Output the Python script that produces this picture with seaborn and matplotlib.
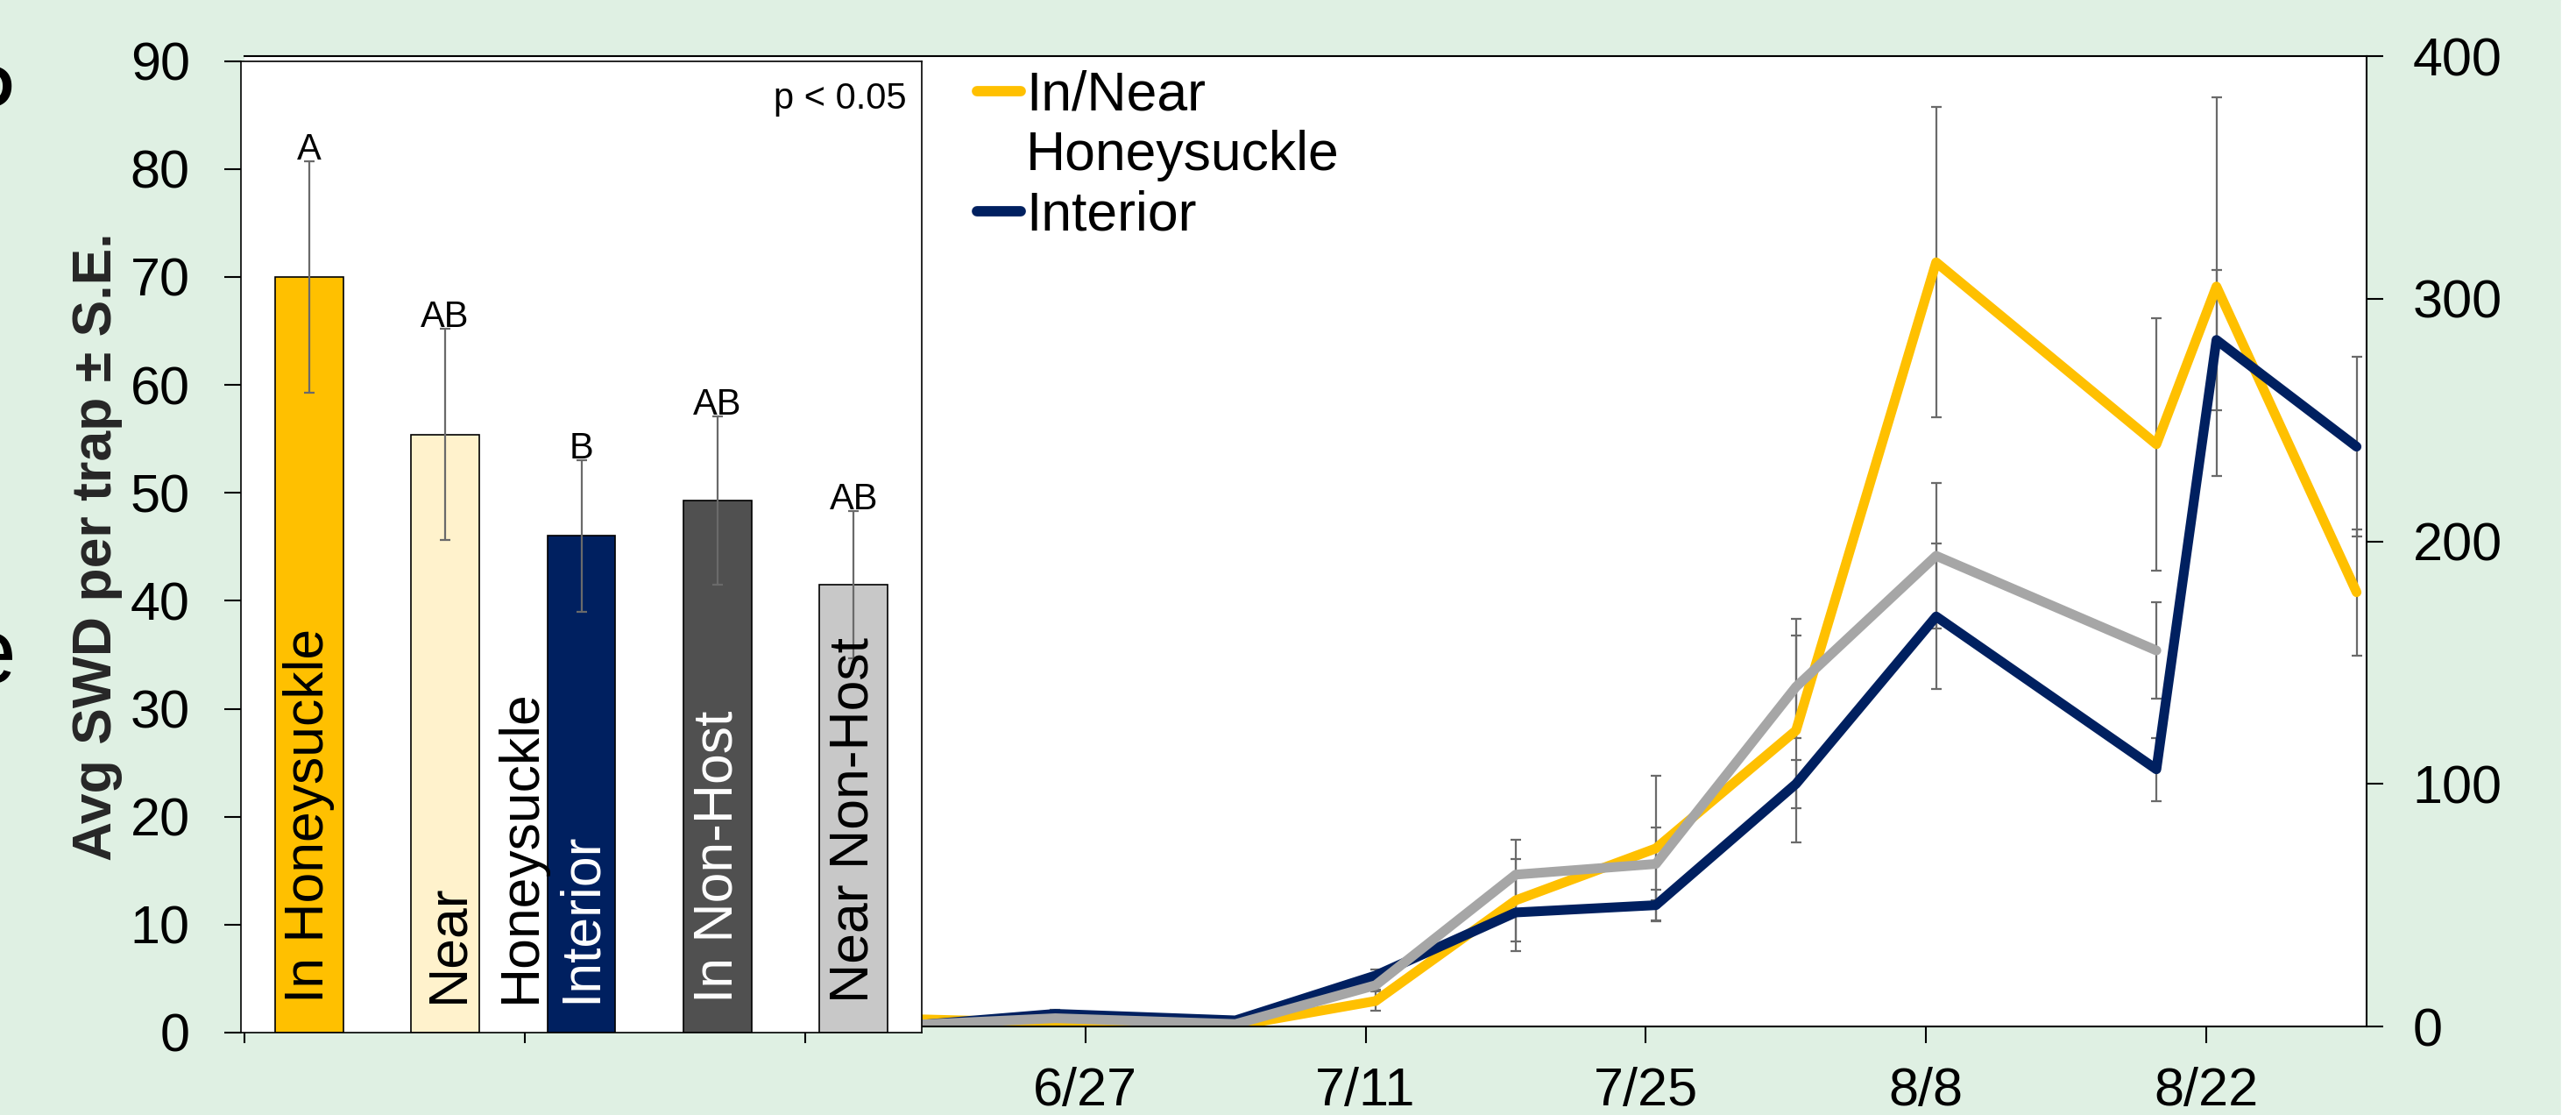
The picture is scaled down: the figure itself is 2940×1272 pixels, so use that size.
import numpy as np
import pandas as pd
import matplotlib
matplotlib.use("Agg")
import matplotlib.pyplot as plt
from matplotlib.lines import Line2D
from matplotlib.patches import Rectangle
import seaborn as sns

# season averages per trap location (inset bars)
bar_cats = ["In Honeysuckle", "Near Honeysuckle", "Interior", "In Non-Host", "Near Non-Host"]
bar_labels = ["In Honeysuckle", "Near\nHoneysuckle", "Interior", "In Non-Host", "Near Non-Host"]
bar_means = [70.0, 55.4, 46.0, 49.3, 41.5]
bar_se = [10.7, 9.8, 7.0, 7.8, 6.8]
bar_letters = ["A", "AB", "B", "AB", "AB"]
bar_colors = ["#FFC000", "#FFF2CC", "#002060", "#505050", "#C8C8C8"]
bar_text_colors = ["black", "black", "white", "white", "black"]

# trap counts by sampling date (lines, right axis)
dates = ["2016-06-18 12:00", "2016-06-25 12:00", "2016-07-04 12:00", "2016-07-11 12:00",
         "2016-07-18 12:00", "2016-07-25 12:00", "2016-08-01 12:00", "2016-08-08 12:00",
         "2016-08-19 12:00", "2016-08-22 12:00", "2016-08-29 12:00"]
near_hs = [3, 1.5, 0.3, 10.5, 52, 73.4, 122, 315, 240, 305, 179]
near_hs_se = [1, 1, 0.5, 4, 17, 30, 46, 64, 52, 78, 26]
interior = [0.5, 5.2, 2.5, 21, 47, 50, 100, 169, 106, 283, 239]
interior_se = [0.5, 1.8, 1, 2.6, 16, 6.4, 10, 30, 13, 29, 37]
non_host = [0.7, 3.4, 1, 17, 62.6, 67, 140, 194, 155, np.nan, np.nan]
non_host_se = [0.5, 1.5, 0.5, 2, 14.4, 15, 21, 30, 20, np.nan, np.nan]
line_names = ["In/Near Honeysuckle", "Interior", "Non-Host"]
line_colors = ["#FFC000", "#002060", "#A6A6A6"]

xtick_dates = ["2016-05-16", "2016-05-30", "2016-06-13", "2016-06-27",
               "2016-07-11", "2016-07-25", "2016-08-08", "2016-08-22"]
xtick_labels = ["", "", "", "6/27", "7/11", "7/25", "8/8", "8/22"]

sns.set_style("ticks")
plt.rcParams["font.family"] = ["Liberation Sans Narrow", "Liberation Sans", "DejaVu Sans"]
plt.rcParams["axes.edgecolor"] = "black"
plt.rcParams["text.color"] = "black"
plt.rcParams["xtick.color"] = "black"
plt.rcParams["ytick.color"] = "black"

W, H = 2940, 1272
fig = plt.figure(figsize=(W / 100, H / 100), dpi=100, facecolor="#DFF0E3")
fig.add_artist(Rectangle((2923 / W, 0), 17 / W, 1, transform=fig.transFigure,
                         color="white", zorder=-1))

# main time series
ax = fig.add_axes([279 / W, 1 - 1171 / H, (2701 - 279) / W, (1171 - 64) / H])
ax.set_facecolor("white")

df = pd.DataFrame({
    "date": pd.to_datetime(dates * 3),
    "count": near_hs + interior + non_host,
    "se": near_hs_se + interior_se + non_host_se,
    "site": np.repeat(line_names, len(dates)),
})

for name in line_names:
    sub = df[df["site"] == name]
    ax.errorbar(sub["date"], sub["count"], yerr=sub["se"], fmt="none", ecolor="#6A6A6A",
                elinewidth=1.6, capsize=4.5, capthick=1.6, zorder=1)

n_before = len(ax.lines)
sns.lineplot(data=df, x="date", y="count", hue="site", hue_order=line_names,
             palette=line_colors, linewidth=8, legend=False, errorbar=None,
             solid_capstyle="round", solid_joinstyle="round", ax=ax, zorder=2)
for ln in ax.lines[n_before:]:
    ln.set_linewidth(8)

ax.set_xlim(pd.Timestamp("2016-05-16"), pd.Timestamp("2016-08-30"))
ax.set_ylim(0, 400)
ax.yaxis.tick_right()
ax.set_yticks([0, 100, 200, 300, 400])
ax.set_xticks(pd.to_datetime(xtick_dates))
ax.set_xticklabels(xtick_labels)
ax.tick_params(axis="both", direction="out", length=14, width=1.5, labelsize=44,
               bottom=True, right=True, left=False)
ax.tick_params(axis="x", pad=19)
ax.tick_params(axis="y", pad=24)
ax.spines["left"].set_visible(False)
for s in ["top", "right", "bottom"]:
    ax.spines[s].set_linewidth(1.5)
ax.set_xlabel("")
ax.set_ylabel("")

# inset bar chart
ax_bar = fig.add_axes([275 / W, 1 - 1178 / H, (1052 - 275) / W, (1178 - 69.6) / H])
ax_bar.set_zorder(2)
ax_bar.set_facecolor("white")
sns.barplot(x=bar_cats, y=bar_means, hue=bar_cats, order=bar_cats, hue_order=bar_cats,
            palette=bar_colors, saturation=1, width=0.5, edgecolor="black", linewidth=1.2,
            legend=False, errorbar=None, ax=ax_bar)
ax_bar.errorbar(range(len(bar_cats)), bar_means, yerr=bar_se, fmt="none", ecolor="#6A6A6A",
                elinewidth=1.6, capsize=4.5, capthick=1.6, zorder=3)

for i, (lab, col) in enumerate(zip(bar_labels, bar_text_colors)):
    ax_bar.text(i + 0.29 * lab.count("\n"), 2.8, lab, rotation=90, ha="center", va="bottom",
                multialignment="left", linespacing=1.5, color=col, fontsize=45,
                family="Liberation Sans", zorder=4)

for i, (m, se, let) in enumerate(zip(bar_means, bar_se, bar_letters)):
    ax_bar.text(i, m + se + 0.15, let, ha="center", va="baseline", fontsize=30, zorder=4)

ax_bar.text(0.978, 0.951, "p < 0.05", transform=ax_bar.transAxes, ha="right",
            va="baseline", fontsize=30)

ax_bar.set_xlim(-0.5, len(bar_cats) - 0.5)
ax_bar.set_ylim(0, 90)
ax_bar.set_yticks(range(0, 91, 10))
ax_bar.set_xticks([])
ax_bar.tick_params(axis="y", direction="out", length=14, width=1.5, labelsize=44, pad=28)
for s in ax_bar.spines.values():
    s.set_linewidth(1.2)
    s.set_visible(True)
ax_bar.set_xlabel("")
ax_bar.set_ylabel("Avg SWD per trap ± S.E.", fontsize=45, fontweight="bold",
                  family="Liberation Sans", labelpad=6)

# legend (second line of the first label kept as its own row)
handles = [Line2D([], [], color=line_colors[0], lw=8.5, solid_capstyle="round"),
           Line2D([], [], color="none", lw=0),
           Line2D([], [], color=line_colors[1], lw=8.5, solid_capstyle="round")]
fig.legend(handles, ["In/Near", "Honeysuckle", "Interior"], loc="upper left",
           bbox_to_anchor=(1115 / W, 1 - 80 / H), frameon=False, fontsize=45,
           handlelength=0.8, handletextpad=0.1, labelspacing=0.15,
           borderpad=0, borderaxespad=0)

# clipped fragments at the left edge
fig.text(-35 / W, 1 - 122 / H, "D", ha="left", va="baseline", fontsize=50,
         fontweight="bold", family="Liberation Sans")
fig.text(-40 / W, 1 - 779 / H, "e", ha="left", va="baseline", fontsize=76,
         family="Liberation Sans")

fig.savefig("out.png", dpi=100, facecolor=fig.get_facecolor())
